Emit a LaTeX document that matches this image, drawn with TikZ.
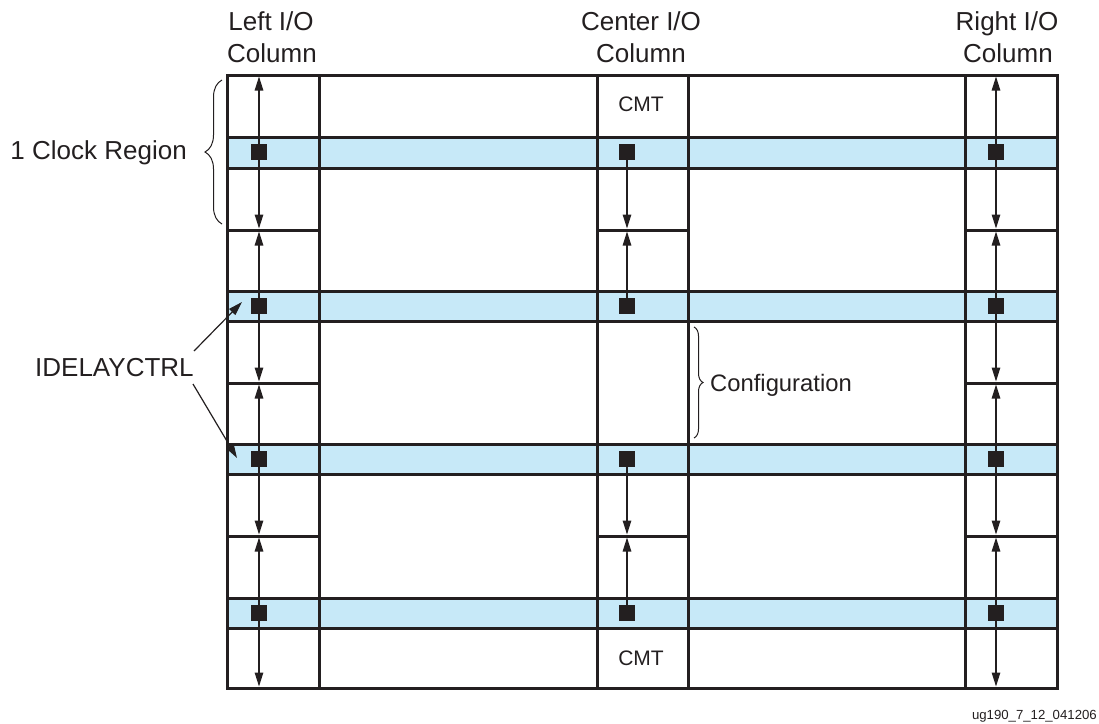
\documentclass[tikz,border=0pt]{standalone}
\usepackage{fontspec}
\setmainfont{Liberation Sans}
\usetikzlibrary{arrows.meta,decorations.pathreplacing}
\definecolor{bandblue}{RGB}{199,233,248}
\definecolor{ink}{RGB}{35,31,32}
\begin{document}
\begin{tikzpicture}[x=1pt,y=-1pt,
  gridline/.style={draw=ink,line width=3pt},
  band/.style={fill=bandblue},
  dly/.style={fill=ink,minimum size=16pt,inner sep=0pt,outer sep=0pt},
  tipstyle/.tip={Triangle[length=14pt,width=8.5pt]},
  twoway/.style={draw=ink,line width=1.2pt,tipstyle-tipstyle},
  oneway/.style={draw=ink,line width=1.2pt,-tipstyle},
  lbl/.style={inner sep=0pt,text=ink,font=\fontsize{26}{30}\selectfont},
  cfgfont/.style={inner sep=0pt,text=ink,font=\fontsize{23.8}{28}\selectfont},
  cmt/.style={inner sep=0pt,text=ink,font=\fontsize{21}{24}\selectfont},
  brc/.style={draw=ink,line width=1pt,decorate},
]
\useasboundingbox (0,0) rectangle (1099,723);

% blue bands
\foreach \t/\b in {137/168,291/321,444/474,598/628}
  \fill[band] (227,\t) rectangle (1057,\b);

% grid
\draw[gridline] (227,75) rectangle (1057,688);
\foreach \x in {319,597,688,965}
  \draw[gridline] (\x,75) -- (\x,688);
\foreach \y in {137,168,291,321,444,474,598,628}
  \draw[gridline] (227,\y) -- (1057,\y);
\foreach \y in {230,383,536} {
  \draw[gridline] (227,\y) -- (319,\y);
  \draw[gridline] (965,\y) -- (1057,\y);
}
\foreach \y in {230,536}
  \draw[gridline] (597,\y) -- (688,\y);

% boundary coordinates for the clock-region arrows
\foreach \c/\x in {L/259,R/996,C/627} {
  \coordinate (\c0) at (\x,76.5);
  \coordinate (\c1u) at (\x,228.5);
  \coordinate (\c1d) at (\x,231.5);
  \coordinate (\c2u) at (\x,381.5);
  \coordinate (\c2d) at (\x,384.5);
  \coordinate (\c3u) at (\x,534.5);
  \coordinate (\c3d) at (\x,537.5);
  \coordinate (\c4) at (\x,686.5);
}

% side column arrows
\foreach \c in {L,R} {
  \draw[twoway] (\c0) -- (\c1u);
  \draw[twoway] (\c1d) -- (\c2u);
  \draw[twoway] (\c2d) -- (\c3u);
  \draw[twoway] (\c3d) -- (\c4);
}

% IDELAYCTRL squares
\foreach \c/\x in {L/259,C/627,R/996} {
  \node[dly] (\c sq1) at (\x,152) {};
  \node[dly] (\c sq2) at (\x,306) {};
  \node[dly] (\c sq3) at (\x,459) {};
  \node[dly] (\c sq4) at (\x,613) {};
}

% center column arrows
\draw[oneway] (Csq1.south) -- (C1u);
\draw[oneway] (Csq2.north) -- (C1d);
\draw[oneway] (Csq3.south) -- (C3u);
\draw[oneway] (Csq4.north) -- (C3d);

% headers
\node[lbl,anchor=base] (hL1) at (271,30) {Left I/O};
\node[lbl,anchor=base] (hL2) at (272,62) {Column};
\node[lbl,anchor=base] (hC1) at (641,30) {Center I/O};
\node[lbl,anchor=base] (hC2) at (641,62) {Column};
\node[lbl,anchor=base] (hR1) at (1007,30) {Right I/O};
\node[lbl,anchor=base] (hR2) at (1008,62) {Column};

% CMT
\node[cmt,anchor=base] (cmtT) at (641,111) {CMT};
\node[cmt,anchor=base] (cmtB) at (641,665) {CMT};

% clock region brace
\coordinate (brA) at (222,224);
\coordinate (brB) at (222,80);
\draw[brc,decoration={brace,amplitude=17pt}] (brA) -- (brB);
\node[lbl,anchor=base east] (clk) at (187,159) {1 Clock Region};

% configuration brace
\coordinate (cfA) at (694,327);
\coordinate (cfB) at (694,438);
\draw[brc,decoration={brace,amplitude=9pt}] (cfA) -- (cfB);
\node[cfgfont,anchor=base west] (cfg) at (710,391) {Configuration};

% IDELAYCTRL label and pointers
\node[lbl,anchor=base west] (idl) at (35,376) {IDELAYCTRL};
\coordinate (idA) at (194,351);
\coordinate (idB) at (193,384);
\coordinate (idT1) at (242,302);
\coordinate (idT2) at (237,458);
\draw[oneway] (idA) -- (idT1);
\draw[oneway] (idB) -- (idT2);

% figure id
\node[inner sep=0pt,text=ink,font=\fontsize{13.2}{15}\selectfont,anchor=base east] (fid) at (1097,719) {ug190\_7\_12\_041206};
\end{tikzpicture}
\end{document}
